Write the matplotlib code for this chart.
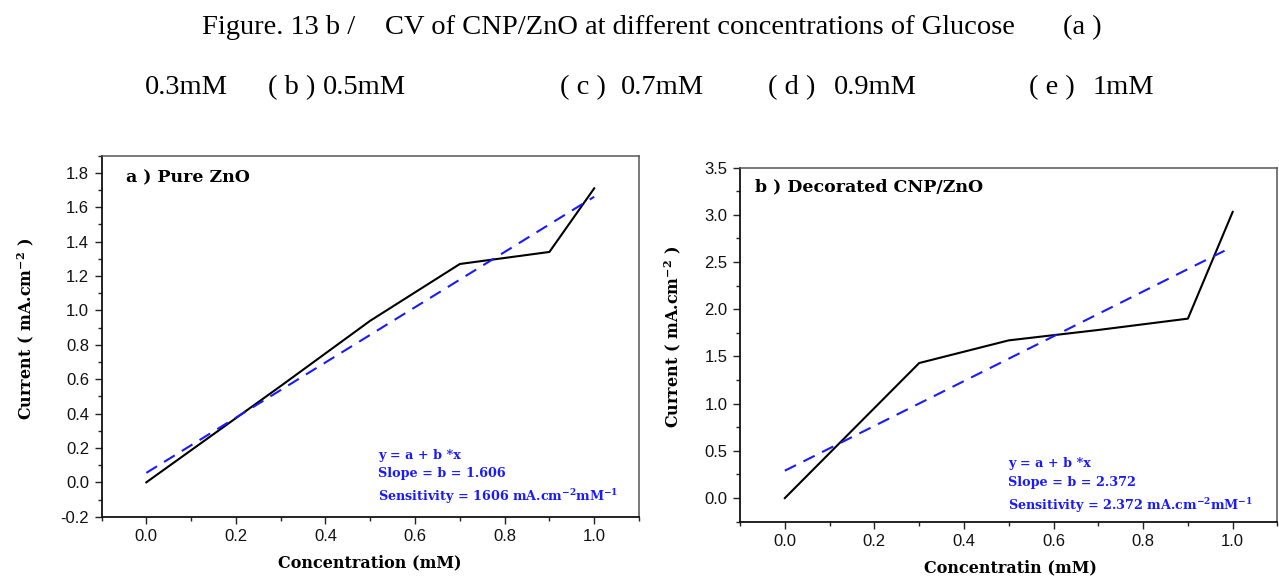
import matplotlib
matplotlib.use("Agg")
import matplotlib.pyplot as plt
from matplotlib.ticker import MultipleLocator, FormatStrFormatter
import numpy as np

# ---- data ----
conc_a = [0.0, 0.3, 0.5, 0.7, 0.9, 1.0]
current_a = [0.0, 0.56, 0.94, 1.27, 1.34, 1.71]
fit_a_intercept = 0.055
fit_a_slope = 1.606
fit_a_x = [0.0, 1.0]

conc_b = [0.0, 0.3, 0.5, 0.7, 0.9, 1.0]
current_b = [0.0, 1.43, 1.67, 1.78, 1.90, 3.03]
fit_b_intercept = 0.29
fit_b_slope = 2.372
fit_b_x = [0.0, 0.985]

title_line1 = [("Figure. 13 b /", 202), ("CV of CNP/ZnO at different concentrations of Glucose", 385), ("(a )", 1063)]
title_line2 = [("0.3mM", 145), ("( b )", 268), ("0.5mM", 323), ("( c )", 560), ("0.7mM", 621),
               ("( d )", 768), ("0.9mM", 834), ("( e )", 1029), ("1mM", 1093)]

W, H = 1279, 577
plt.rcParams['font.family'] = ['Liberation Sans', 'DejaVu Sans']
plt.rcParams['xtick.labelsize'] = 12
plt.rcParams['ytick.labelsize'] = 12
plt.rcParams['mathtext.fontset'] = 'custom'
plt.rcParams['mathtext.rm'] = 'DejaVu Serif:bold'
plt.rcParams['mathtext.default'] = 'rm'
plt.rcParams['axes.unicode_minus'] = False

fig = plt.figure(figsize=(W / 100, H / 100), dpi=100)

def fx(x):
    return x / W

def fy(y):
    return 1 - y / H

serif = 'Liberation Serif'
for txt, x in title_line1:
    fig.text(fx(x), fy(34.3), txt, family=serif, fontsize=20.5, va='baseline', ha='left')
for txt, x in title_line2:
    fig.text(fx(x), fy(93.7), txt, family=serif, fontsize=20.5, va='baseline', ha='left')

blue = '#1a1aff'
lab_font = dict(family='DejaVu Serif', fontweight='bold', fontsize=11.5)
panel_font = dict(family='DejaVu Serif', fontweight='bold', fontsize=12.5)
ann_font = dict(family='DejaVu Serif', fontweight='bold', fontsize=9.2, color=blue)

def style_axes(ax, xlim, ylim, ymaj, ymin):
    ax.set_xlim(*xlim)
    ax.set_ylim(*ylim)
    ax.xaxis.set_major_locator(MultipleLocator(0.2))
    ax.xaxis.set_minor_locator(MultipleLocator(0.1))
    ax.yaxis.set_major_locator(MultipleLocator(ymaj))
    ax.yaxis.set_minor_locator(MultipleLocator(ymin))
    ax.xaxis.set_major_formatter(FormatStrFormatter('%.1f'))
    ax.yaxis.set_major_formatter(FormatStrFormatter('%.1f'))
    ax.tick_params(which='both', direction='out', top=False, right=False, color='#222222')
    ax.tick_params(which='major', length=5, width=1.0, labelsize=12, pad=4, labelcolor='#111111')
    ax.tick_params(which='minor', length=3, width=1.0)
    for s in ['left', 'bottom']:
        ax.spines[s].set_color('#111111')
        ax.spines[s].set_linewidth(1.3)
    for s in ['top', 'right']:
        ax.spines[s].set_color('#555555')
        ax.spines[s].set_linewidth(1.1)

# ---- panel a ----
axa = fig.add_axes([0.0794, 0.1045, 0.4202, 0.6257])
axa.plot(conc_a, current_a, color='black', lw=1.5)
fxa = np.array(fit_a_x)
axa.plot(fxa, fit_a_intercept + fit_a_slope * fxa, color=blue, lw=1.5, ls=(0, (6, 4)))
style_axes(axa, (-0.1, 1.1), (-0.2, 1.9), 0.2, 0.1)

fig.text(fx(126), fy(178), "a ) Pure ZnO", ha='left', va='center', **panel_font)
fig.text(fx(378), fy(455), "y = a + b *x", ha='left', va='center', **ann_font)
fig.text(fx(378), fy(473), "Slope = b = 1.606", ha='left', va='center', **ann_font)
fig.text(fx(378), fy(497), "Sensitivity = 1606 mA.cm$^{-2}$mM$^{-1}$", ha='left', va='center', **ann_font)
fig.text(fx(370), fy(563), "Concentration (mM)", ha='center', va='center', **lab_font)
fig.text(fx(26), fy(329), "Current ( mA.cm$^{-2}$ )", ha='center', va='center', rotation=90, **lab_font)

# ---- panel b ----
axb = fig.add_axes([0.5786, 0.0958, 0.4202, 0.6139])
axb.plot(conc_b, current_b, color='black', lw=1.5)
fxb = np.array(fit_b_x)
axb.plot(fxb, fit_b_intercept + fit_b_slope * fxb, color=blue, lw=1.5, ls=(0, (6, 4)))
style_axes(axb, (-0.1, 1.1), (-0.25, 3.5), 0.5, 0.25)

fig.text(fx(755), fy(187), "b ) Decorated CNP/ZnO", ha='left', va='center', **panel_font)
fig.text(fx(1008), fy(464), "y = a + b *x", ha='left', va='center', **ann_font)
fig.text(fx(1008), fy(482.5), "Slope = b = 2.372", ha='left', va='center', **ann_font)
fig.text(fx(1008), fy(506), "Sensitivity = 2.372 mA.cm$^{-2}$mM$^{-1}$", ha='left', va='center', **ann_font)
fig.text(fx(1010), fy(568), "Concentratin (mM)", ha='center', va='center', **lab_font)
fig.text(fx(673), fy(337), "Current ( mA.cm$^{-2}$ )", ha='center', va='center', rotation=90, **lab_font)

fig.savefig("out.png", dpi=100)
